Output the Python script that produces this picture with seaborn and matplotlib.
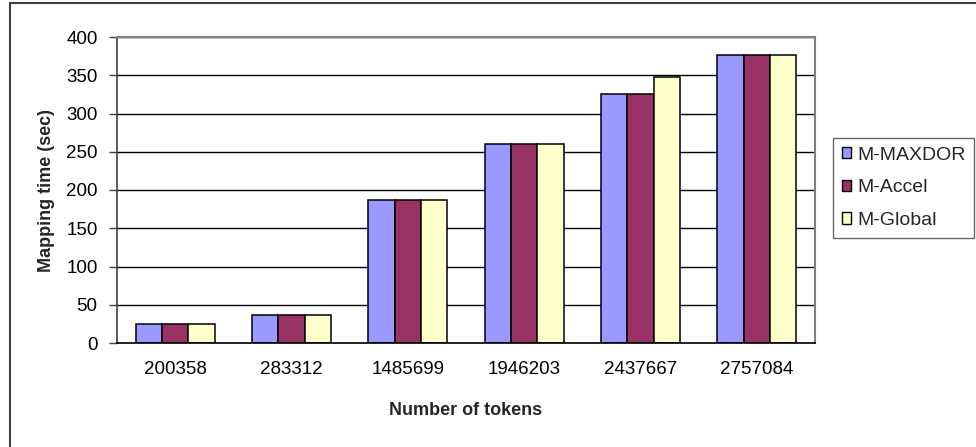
import matplotlib
matplotlib.use("Agg")
import matplotlib.pyplot as plt
import seaborn as sns
import pandas as pd
from matplotlib.patches import Rectangle, Patch

categories = ["200358", "283312", "1485699", "1946203", "2437667", "2757084"]
series_names = ["M-MAXDOR", "M-Accel", "M-Global"]
m_maxdor = [25, 37, 187, 260, 325, 377]
m_accel = [25, 37, 187, 260, 325, 377]
m_global = [25, 37, 187, 260, 348, 377]
colors = ["#9999FF", "#993366", "#FFFFCC"]
yticks = [0, 50, 100, 150, 200, 250, 300, 350, 400]

rows = []
for name, vals in zip(series_names, [m_maxdor, m_accel, m_global]):
    for c, v in zip(categories, vals):
        rows.append({"tokens": c, "time": v, "series": name})
df = pd.DataFrame(rows)

sns.set_theme(style="white")
plt.rcParams["font.family"] = ["Liberation Sans", "DejaVu Sans"]

fig = plt.figure(figsize=(9.76, 4.47), dpi=100)
ax = fig.add_axes([117/976, 1-343/447, (815-117)/976, (343-37)/447])

sns.barplot(data=df, x="tokens", y="time", hue="series", order=categories,
            hue_order=series_names, palette=colors, width=0.68,
            edgecolor="black", linewidth=1.1, saturation=1, ax=ax, legend=False)

ax.set_ylim(0, 400)
ax.set_xlim(-0.5, len(categories) - 0.5)
ax.set_yticks(yticks)
ax.set_yticklabels([str(t) for t in yticks])
ax.yaxis.grid(True, color="black", linewidth=1.0)
ax.set_axisbelow(True)

ax.set_xticks(range(len(categories)))
ax.set_xticklabels(categories)
ax.set_xticks([i - 0.5 for i in range(len(categories) + 1)], minor=True)
ax.tick_params(axis="x", which="major", length=0, pad=13, labelsize=13.5, colors="black")
ax.tick_params(axis="x", which="minor", length=5, width=1, color="black", direction="out")
ax.tick_params(axis="y", which="major", length=6, width=1, color="#404040", direction="out",
               pad=8, labelsize=13.5, labelcolor="black", left=True)

for side in ["top", "right"]:
    ax.spines[side].set_visible(True)
    ax.spines[side].set_color("#808080")
    ax.spines[side].set_linewidth(1.5)
ax.spines["left"].set_color("#404040")
ax.spines["left"].set_linewidth(1.2)
ax.spines["bottom"].set_color("black")
ax.spines["bottom"].set_linewidth(1.2)

ax.set_xlabel("Number of tokens", fontsize=13, fontweight="bold", labelpad=17)
ax.set_ylabel("Mapping time (sec)", fontsize=13, fontweight="bold", labelpad=8)

handles = [Patch(facecolor=c, edgecolor="black", linewidth=1.0) for c in colors]
leg = fig.legend(handles, series_names, loc="upper left",
                 bbox_to_anchor=(833/976, 1-138/447), fontsize=14,
                 frameon=True, fancybox=False, edgecolor="#404040",
                 handlelength=0.5, handleheight=0.5, handletextpad=0.3,
                 labelspacing=0.8, borderpad=0.45, borderaxespad=0)
leg.get_frame().set_linewidth(1.0)

fig.patches.append(Rectangle((10/976, -0.1), 1.2, 1 - 3/447 + 0.1,
                             transform=fig.transFigure, fill=False,
                             edgecolor="#404040", linewidth=1.5, zorder=-1))

fig.savefig("out.png", dpi=100)
